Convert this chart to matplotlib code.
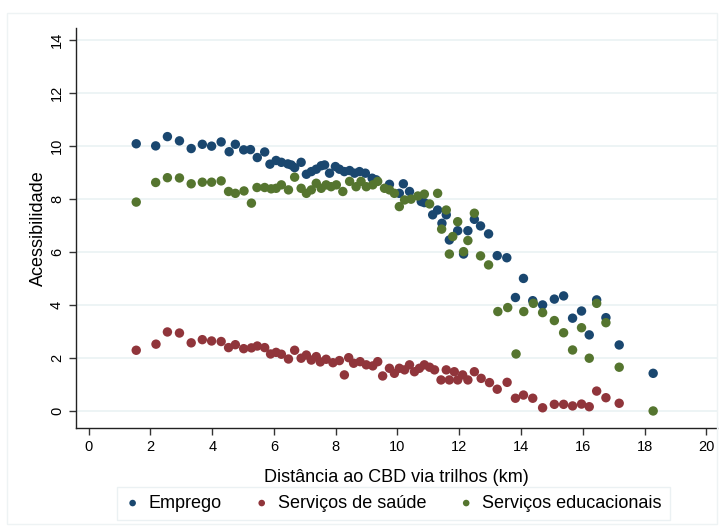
import matplotlib
matplotlib.use("Agg")
import matplotlib.pyplot as plt
from matplotlib.patches import Rectangle

plt.rcParams['font.family'] = ['Liberation Sans', 'DejaVu Sans']

# distancia (km) e acessibilidade
emp_x = [1.54, 2.17, 2.55, 2.94, 3.32, 3.68, 3.98, 4.29, 4.55, 4.75, 5.02, 5.24, 5.46, 5.70,
         5.87, 6.07, 6.24, 6.45, 6.56, 6.67, 6.88, 7.05, 7.21, 7.37, 7.53, 7.64, 7.80, 7.99,
         8.12, 8.28, 8.45, 8.61, 8.77, 8.96, 9.18, 9.31, 9.74, 10.06, 10.19, 10.39, 10.77,
         10.87, 11.14, 11.30, 11.44, 11.58, 11.68, 11.95, 12.14, 12.28, 12.49, 12.69, 12.95,
         13.23, 13.54, 13.82, 14.08, 14.38, 14.70, 15.08, 15.38, 15.67, 15.96, 16.21, 16.45,
         16.75, 17.18, 18.28]
emp_y = [10.08, 10.00, 10.35, 10.19, 9.90, 10.06, 9.99, 10.15, 9.78, 10.06, 9.85, 9.86, 9.56,
         9.77, 9.31, 9.45, 9.38, 9.32, 9.28, 9.18, 9.38, 8.93, 9.03, 9.12, 9.25, 9.28, 8.97,
         9.22, 9.12, 9.03, 9.07, 8.97, 9.03, 8.97, 8.78, 8.72, 8.55, 8.21, 8.57, 8.28, 7.90,
         7.86, 7.40, 7.58, 7.08, 7.40, 6.45, 6.80, 5.92, 6.80, 7.23, 6.98, 6.68, 5.86, 5.78,
         4.28, 5.00, 4.16, 4.00, 4.22, 4.34, 3.50, 3.77, 2.87, 4.19, 3.52, 2.49, 1.42]

sau_x = [1.54, 2.18, 2.55, 2.94, 3.32, 3.68, 3.98, 4.29, 4.53, 4.75, 5.02, 5.27, 5.46, 5.70,
         5.89, 6.07, 6.24, 6.47, 6.67, 6.88, 7.05, 7.21, 7.37, 7.50, 7.69, 7.91, 8.12, 8.28,
         8.42, 8.58, 8.79, 8.99, 9.20, 9.36, 9.52, 9.74, 9.90, 10.06, 10.23, 10.39, 10.55,
         10.71, 10.87, 11.04, 11.20, 11.41, 11.58, 11.68, 11.84, 11.95, 12.11, 12.28, 12.49,
         12.71, 12.98, 13.23, 13.55, 13.82, 14.08, 14.38, 14.70, 15.08, 15.38, 15.67, 15.96,
         16.21, 16.45, 16.75, 17.18]
sau_y = [2.29, 2.52, 2.98, 2.94, 2.57, 2.69, 2.64, 2.62, 2.39, 2.50, 2.35, 2.38, 2.45, 2.39,
         2.15, 2.21, 2.14, 1.96, 2.29, 1.99, 2.11, 1.92, 2.05, 1.85, 1.95, 1.82, 1.90, 1.36,
         2.01, 1.80, 1.86, 1.74, 1.70, 1.86, 1.32, 1.61, 1.42, 1.61, 1.55, 1.74, 1.48, 1.61,
         1.74, 1.65, 1.55, 1.17, 1.55, 1.17, 1.48, 1.17, 1.36, 1.17, 1.48, 1.23, 1.07, 0.82,
         1.08, 0.48, 0.60, 0.48, 0.12, 0.25, 0.25, 0.19, 0.26, 0.16, 0.75, 0.50, 0.29]

edu_x = [1.54, 2.17, 2.55, 2.94, 3.32, 3.68, 3.98, 4.29, 4.53, 4.75, 5.03, 5.27, 5.45, 5.70,
         5.91, 6.07, 6.24, 6.47, 6.67, 6.88, 7.05, 7.21, 7.37, 7.53, 7.69, 7.85, 8.02, 8.23,
         8.45, 8.66, 8.82, 8.99, 9.20, 9.36, 9.58, 9.74, 9.90, 10.06, 10.23, 10.44, 10.66,
         10.87, 11.04, 11.30, 11.43, 11.58, 11.68, 11.79, 11.95, 12.14, 12.28, 12.49, 12.69,
         12.95, 13.25, 13.57, 13.84, 14.09, 14.40, 14.70, 15.08, 15.38, 15.67, 15.96, 16.21,
         16.45, 16.75, 17.18, 18.28]
edu_y = [7.88, 8.62, 8.80, 8.79, 8.57, 8.63, 8.63, 8.68, 8.28, 8.21, 8.30, 7.84, 8.43, 8.43,
         8.38, 8.40, 8.53, 8.34, 8.82, 8.40, 8.21, 8.34, 8.59, 8.40, 8.53, 8.46, 8.53, 8.28,
         8.66, 8.46, 8.66, 8.46, 8.53, 8.66, 8.40, 8.34, 8.21, 7.71, 7.96, 7.99, 8.11, 8.18,
         7.81, 8.21, 6.86, 7.58, 5.92, 6.58, 7.14, 6.01, 6.43, 7.46, 5.85, 5.51, 3.75, 3.90,
         2.15, 3.75, 4.06, 3.71, 3.41, 2.95, 2.30, 3.14, 1.99, 4.06, 3.33, 1.65, 0.00]

series = [
    ("Emprego", emp_x, emp_y, "#1a476f"),
    ("Serviços de saúde", sau_x, sau_y, "#90353b"),
    ("Serviços educacionais", edu_x, edu_y, "#55752f"),
]

fig = plt.figure(figsize=(7.21, 5.27), dpi=100)
# faint outer frame like the stata graph region
fig.patches.append(Rectangle((0.01, 0.005), 0.985, 0.97, transform=fig.transFigure,
                             fill=False, edgecolor="#eef3f4", linewidth=1))
ax = fig.add_axes([0.105, 0.188, 0.89, 0.759])

for name, xs, ys, col in series:
    ax.scatter(xs, ys, s=46, color=col, label=name, edgecolors="none", zorder=3)

ax.set_xlim(-0.42, 20.36)
ax.set_ylim(-0.64, 14.45)
ax.set_xticks(range(0, 21, 2))
ax.set_yticks(range(0, 15, 2))
ax.set_yticklabels([str(v) for v in range(0, 15, 2)], rotation=90, va="center")
ax.tick_params(axis="both", labelsize=10.5, length=5, width=1, color="#333333", direction="out")
ax.yaxis.grid(True, color="#eaf2f3", linewidth=1.2)
ax.set_axisbelow(True)

for side in ["top", "right"]:
    ax.spines[side].set_visible(False)
for side in ["left", "bottom"]:
    ax.spines[side].set_color("#222222")
    ax.spines[side].set_linewidth(1)

ax.set_xlabel("Distância ao CBD via trilhos (km)", fontsize=13, labelpad=11)
ax.set_ylabel("Acessibilidade", fontsize=13)
ax.yaxis.set_label_coords(-0.045, 0.5)

leg = fig.legend(loc="center", bbox_to_anchor=(0.546, 0.045), ncol=3, fontsize=13,
                 frameon=True, fancybox=False, edgecolor="#e6eef0", handlelength=0.8,
                 handletextpad=0.5, columnspacing=1.8, markerscale=0.7, borderpad=0.45)
leg.get_frame().set_linewidth(1)

fig.savefig("out.png", dpi=100)
